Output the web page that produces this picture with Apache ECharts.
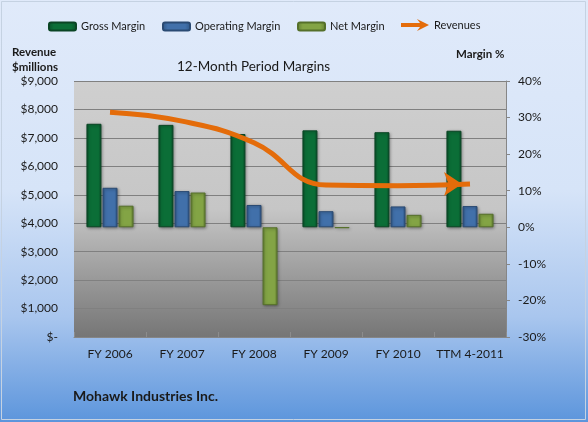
<!DOCTYPE html>
<html>
<head>
<meta charset="utf-8">
<script src="https://cdn.jsdelivr.net/npm/echarts@6/dist/echarts.min.js"></script>
<style>
  html, body { margin: 0; padding: 0; background: #fff; }
  #chart { width: 588px; height: 422px; }
</style>
</head>
<body>
<div id="chart"></div>
<script>
  // values
  const categories = ['FY 2006', 'FY 2007', 'FY 2008', 'FY 2009', 'FY 2010', 'TTM 4-2011'];
  const grossMargin = [28.3, 28.0, 25.5, 26.5, 26.0, 26.4];
  const operatingMargin = [10.8, 9.9, 6.1, 4.4, 5.7, 5.8];
  const netMargin = [5.9, 9.5, -21.3, -0.2, 3.4, 3.7];
  const revenues = [7905, 7590, 6830, 5340, 5320, 5380];

  const FONT = 'Lato';
  const TXT = '#1a1a1a';

  function grad(dark, mid) {
    return {
      type: 'linear', x: 0, y: 0, x2: 1, y2: 0,
      colorStops: [
        { offset: 0, color: dark },
        { offset: 0.2, color: mid },
        { offset: 0.8, color: mid },
        { offset: 1, color: dark },
      ],
    };
  }

  function barSeries(name, data, dark, mid, border) {
    return {
      name: name,
      type: 'bar',
      yAxisIndex: 1,
      barWidth: 15,
      barGap: '7%',
      data: data,
      itemStyle: {
        color: grad(dark, mid),
        borderColor: border,
        borderWidth: 1,
        shadowColor: 'rgba(0,0,0,0.35)',
        shadowBlur: 3,
        shadowOffsetX: 1,
        shadowOffsetY: 1,
      },
    };
  }

  // one legend per entry so each sits where the reference has it
  function legendItem(left, top, item, w, h) {
    return {
      left: left, top: top, padding: 0, itemWidth: w, itemHeight: h,
      data: [item],
      textStyle: { fontFamily: FONT, fontSize: 11, color: TXT },
    };
  }

  // last point gets the arrow head
  const revData = revenues.map(function (v, i) {
    if (i < revenues.length - 1) return v;
    return { value: v, symbol: 'arrow', symbolSize: [18, 18], symbolRotate: -90, symbolOffset: [-8, 0] };
  });

  const chart = echarts.init(document.getElementById('chart'));
  chart.setOption({
    animation: false,
    backgroundColor: {
      type: 'linear', x: 0, y: 0, x2: 0, y2: 1,
      colorStops: [
        { offset: 0, color: '#e0eafa' },
        { offset: 0.45, color: '#d6e4f8' },
        { offset: 0.75, color: '#a9c6ee' },
        { offset: 1, color: '#5c95dc' },
      ],
    },
    textStyle: { fontFamily: FONT, color: TXT },
    title: [
      { text: '12-Month Period Margins', left: 177, top: 60, padding: 0, textStyle: { fontFamily: FONT, fontSize: 13.5, fontWeight: 'normal', color: TXT } },
      { text: 'Revenue\n$millions', left: 12, top: 45, padding: 0, textStyle: { fontFamily: FONT, fontSize: 11.5, fontWeight: 'bold', color: TXT, lineHeight: 15 } },
      { text: 'Margin %', left: 456, top: 48, padding: 0, textStyle: { fontFamily: FONT, fontSize: 11.5, fontWeight: 'bold', color: TXT } },
      { text: 'Mohawk Industries Inc.', left: 73, top: 389, padding: 0, textStyle: { fontFamily: FONT, fontSize: 14, fontWeight: 'bold', color: TXT } },
    ],
    legend: [
      legendItem(48, 21, 'Gross Margin', 27, 8),
      legendItem(162, 21, 'Operating Margin', 27, 8),
      legendItem(297, 21, 'Net Margin', 27, 8),
      legendItem(401, 19, { name: 'Revenues', icon: 'path://M0,4 L19,4 L16,0 L28,6 L16,12 L19,8 L0,8 Z', itemStyle: { borderWidth: 0 } }, 28, 12),
    ],
    grid: {
      left: 74, right: 82, top: 81, bottom: 85,
      show: true,
      borderWidth: 0,
      backgroundColor: {
        type: 'linear', x: 0, y: 0, x2: 0, y2: 1,
        colorStops: [
          { offset: 0, color: '#cfcfcf' },
          { offset: 0.5, color: '#c6c6c6' },
          { offset: 0.8, color: '#959595' },
          { offset: 1, color: '#767676' },
        ],
      },
    },
    xAxis: {
      type: 'category',
      data: categories,
      axisLine: { lineStyle: { color: '#868686' } },
      axisTick: { show: true, inside: true, length: 5, lineStyle: { color: '#8c8c8c' } },
      axisLabel: { fontFamily: FONT, fontSize: 12, color: TXT, margin: 11, interval: 0 },
    },
    yAxis: [
      {
        type: 'value', position: 'left', min: 0, max: 9000, interval: 1000,
        axisLine: { show: false },
        axisTick: { show: false },
        splitLine: { lineStyle: { color: '#808080', width: 1 } },
        axisLabel: {
          fontFamily: FONT, fontSize: 12, color: TXT, margin: 16,
          formatter: function (v) { return v === 0 ? '$-' : '$' + v.toLocaleString('en-US'); },
        },
      },
      {
        type: 'value', position: 'right', min: -30, max: 40, interval: 10,
        axisLine: { show: true, lineStyle: { color: '#868686' } },
        axisTick: { show: true, length: 4, lineStyle: { color: '#868686' } },
        splitLine: { show: false },
        axisLabel: { fontFamily: FONT, fontSize: 12, color: TXT, margin: 12, formatter: '{value}%' },
      },
    ],
    series: [
      barSeries('Gross Margin', grossMargin, '#08502a', '#0b6e37', '#0a4524'),
      barSeries('Operating Margin', operatingMargin, '#2f5787', '#4170aa', '#2a4a73'),
      barSeries('Net Margin', netMargin, '#637f32', '#83a445', '#55702a'),
      {
        name: 'Revenues',
        type: 'line',
        yAxisIndex: 0,
        smooth: 0.45,
        symbol: 'none',
        showAllSymbol: true,
        data: revData,
        z: 5,
        lineStyle: { color: '#e46c0a', width: 5 },
        itemStyle: { color: '#e46c0a', borderWidth: 0 },
      },
    ],
    graphic: [
      {
        type: 'rect', silent: true, z: 100,
        shape: { x: 1.5, y: 1.5, width: 584, height: 418 },
        style: { fill: 'none', stroke: '#c5d2e2', lineWidth: 1 },
      },
    ],
  });
</script>
</body>
</html>
